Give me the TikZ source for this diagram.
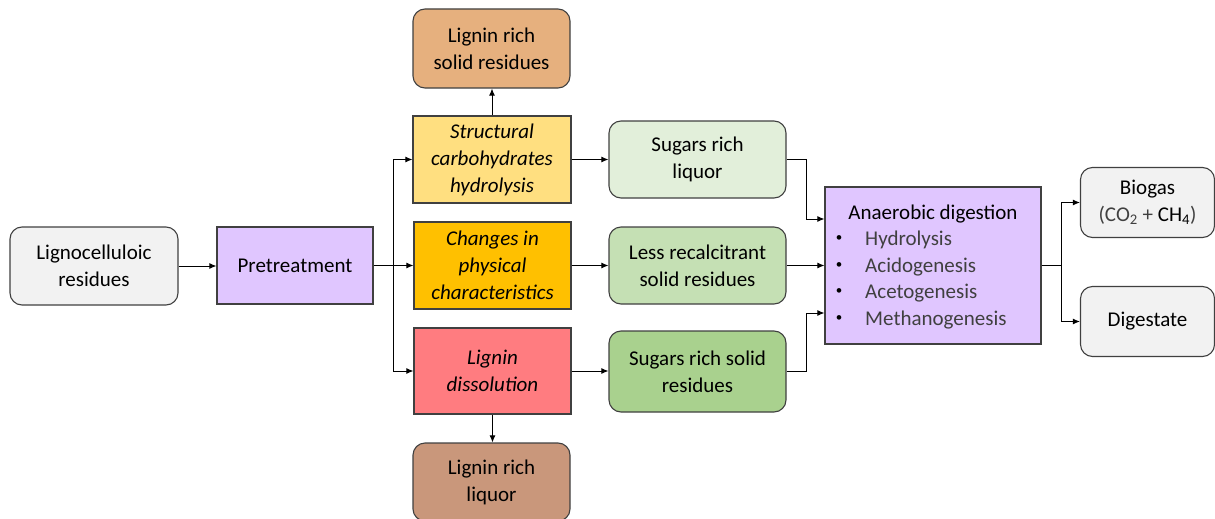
\documentclass[tikz,border=0pt]{standalone}
\usepackage{fontspec}
\setmainfont{Carlito}
\usetikzlibrary{arrows.meta}
\definecolor{bdr}{HTML}{404040}
\definecolor{txtg}{HTML}{404040}
\definecolor{lgray}{HTML}{F2F2F2}
\definecolor{lpurple}{HTML}{E0C6FF}
\definecolor{lyellow}{HTML}{FFDF80}
\definecolor{orangey}{HTML}{FFC000}
\definecolor{salmon}{HTML}{FF7C80}
\definecolor{tan}{HTML}{E6B07E}
\definecolor{brownish}{HTML}{C9977B}
\definecolor{green1}{HTML}{E2EFDA}
\definecolor{green2}{HTML}{C5E0B4}
\definecolor{green3}{HTML}{A9D18E}
\begin{document}
\begin{tikzpicture}[x=1pt,y=-1pt,
  bx/.style={draw=bdr, line width=1.1pt, align=center, inner sep=0pt, text=black,
    font=\fontsize{21}{27}\selectfont},
  rbx/.style={bx, rounded corners=12pt},
  arr/.style={draw=black, line width=1pt, -{Latex[length=7pt,width=6pt]}},
  ln/.style={draw=black, line width=1pt}]
\useasboundingbox (0,0) rectangle (1215,519);
% nodes
\node[rbx, fill=lgray, minimum width=168pt, minimum height=78pt] (lig) at (94,266) {Lignocelluloic\\residues};
\node[bx, fill=lpurple, minimum width=156pt, minimum height=77pt] (pre) at (295,265.5) {Pretreatment};
\node[bx, fill=lyellow, minimum width=158pt, minimum height=87pt] (str) at (492,159.5) {\itshape Structural\\\itshape carbohydrates\\\itshape hydrolysis};
\node[bx, fill=orangey, minimum width=157pt, minimum height=87pt] (chg) at (492.5,265.5) {\itshape Changes in\\\itshape physical\\\itshape characteristics};
\node[bx, fill=salmon, minimum width=157pt, minimum height=86pt] (dis) at (492.5,371) {\itshape Lignin\\\itshape dissolution};
\node[rbx, fill=tan, minimum width=157pt, minimum height=79pt] (lrs) at (491.5,48.5) {Lignin rich\\solid residues};
\node[rbx, fill=brownish, minimum width=157pt, minimum height=78pt] (lrl) at (491.5,482) {Lignin rich\\liquor};
\node[rbx, fill=green1, minimum width=177pt, minimum height=77pt] (sl) at (697.5,159.5) {Sugars rich\\liquor};
\node[rbx, fill=green2, minimum width=177pt, minimum height=77pt] (lr) at (697.5,265.5) {Less recalcitrant\\solid residues};
\node[rbx, fill=green3, minimum width=177pt, minimum height=81pt] (ss) at (697.5,371.5) {Sugars rich solid\\residues};
\node[bx, fill=lpurple, minimum width=216pt, minimum height=157pt] (ad) at (933,265.5) {};
\node[font=\fontsize{21}{27}\selectfont, anchor=base] (adt) at (933,219) {Anaerobic digestion};
\foreach \t [count=\i] in {Hydrolysis,Acidogenesis,Acetogenesis,Methanogenesis}{
  \node[font=\fontsize{21}{27}\selectfont, text=txtg, anchor=base west, inner sep=0pt] (b\i) at (865,{219+26.5*\i}) {\t};
  \node[font=\fontsize{13}{15}\selectfont, text=black, anchor=base, inner sep=0pt] (d\i) at (839,{215+26.5*\i}) {\textbullet};
}
\node[rbx, fill=lgray, minimum width=134pt, minimum height=70pt] (bio) at (1147.5,202.5) {Biogas\\{\color{txtg}(CO\textsubscript{2} + }CH\textsubscript{4}{\color{txtg})}};
\node[rbx, fill=lgray, minimum width=134pt, minimum height=70pt] (dig) at (1147.5,321.5) {Digestate};
% connectors
\draw[arr] (lig.east) -- (pre.west |- lig.east);
\coordinate (bus) at (393,265.5);
\draw[ln] (pre.east) -- (bus);
\draw[arr] (bus |- str.west) -- (str.west);
\draw[ln] (bus |- str.west) -- (bus |- dis.west);
\draw[arr] (bus) -- (chg.west);
\draw[arr] (bus |- dis.west) -- (dis.west);
\draw[arr] (str.north) -- (str.north |- lrs.south);
\draw[arr] (dis.south) -- (dis.south |- lrl.north);
\draw[arr] (str.east) -- (sl.west |- str.east);
\draw[arr] (chg.east) -- (lr.west |- chg.east);
\draw[arr] (dis.east) -- (ss.west |- dis.east);
\coordinate (j1) at (806,219);
\coordinate (j2) at (806,313);
\draw[arr] (sl.east) -| (j1) -- (ad.west |- j1);
\draw[arr] (lr.east) -- (ad.west |- lr.east);
\draw[arr] (ss.east) -| (j2) -- (ad.west |- j2);
\coordinate (bus2) at (1061,265.5);
\draw[ln] (ad.east) -- (bus2);
\draw[ln] (bus2 |- bio.west) -- (bus2 |- dig.west);
\draw[arr] (bus2 |- bio.west) -- (bio.west);
\draw[arr] (bus2 |- dig.west) -- (dig.west);
\end{tikzpicture}
\end{document}
